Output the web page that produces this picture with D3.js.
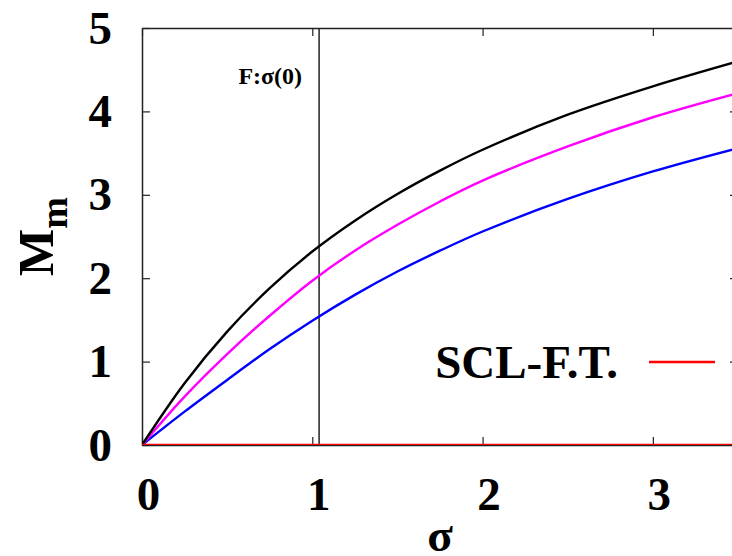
<!DOCTYPE html>
<html lang="en">
<head>
<meta charset="UTF-8"/>
<title>M_m vs sigma</title>
<script src="https://d3js.org/d3.v7.min.js"></script>
<style>
  body { margin: 0; background: #fff; }
  text { font-family: "Liberation Serif", "Times New Roman", serif; font-weight: bold; }
</style>
</head>
<body>
<script>
    // data
    var sigma   = [0, 0.25, 0.5, 0.75, 1.0, 1.25, 1.5, 1.75, 2.0, 2.5, 3.0, 3.5];
    var blackM  = [0, 0.74, 1.36, 1.88, 2.32, 2.69, 3.01, 3.29, 3.54, 3.96, 4.30, 4.60];
    var pinkM   = [0, 0.58, 1.09, 1.55, 1.97, 2.33, 2.64, 2.92, 3.17, 3.58, 3.93, 4.22];
    var blueM   = [0, 0.40, 0.78, 1.15, 1.49, 1.80, 2.08, 2.33, 2.56, 2.95, 3.28, 3.56];
    var sclFT   = [0, 0, 0, 0, 0, 0, 0, 0, 0, 0, 0, 0];
    var xTicks  = [0, 1, 2, 3];
    var yTicks  = [0, 1, 2, 3, 4, 5];
    var sigma0  = 1.04;

    var w = 732, h = 556;
    // plot frame (right edge lies just off the page)
    var padL = 142, padR = 738, padT = 28, padB = 445;

    var svg = d3.select("body").append("svg")
        .attr("width", w)
        .attr("height", h);

    var xScale = d3.scaleLinear().domain([0, 3.5]).range([padL, padR]);
    var yScale = d3.scaleLinear().domain([0, 5]).range([padB, padT]);

    svg.append("clipPath").attr("id", "clip")
        .append("rect")
        .attr("x", padL).attr("y", padT)
        .attr("width", padR - padL).attr("height", padB - padT);

    // axes, ticks pointing inward
    var xAxis = d3.axisBottom(xScale).tickValues(xTicks).tickFormat(d3.format("d"))
        .tickSizeInner(-8).tickSizeOuter(0).tickPadding(32);
    var yAxis = d3.axisLeft(yScale).tickValues(yTicks).tickFormat(d3.format("d"))
        .tickSizeInner(-8).tickSizeOuter(0).tickPadding(30);

    var gx = svg.append("g").attr("transform", "translate(0," + padB + ")").call(xAxis);
    var gy = svg.append("g").attr("transform", "translate(" + padL + ",0)").call(yAxis);
    svg.append("g").attr("transform", "translate(0," + padT + ")")
        .call(d3.axisTop(xScale).tickValues(xTicks).tickFormat("").tickSizeInner(-8).tickSizeOuter(0));
    svg.append("g").attr("transform", "translate(" + padR + ",0)")
        .call(d3.axisRight(yScale).tickValues(yTicks).tickFormat("").tickSizeInner(-8).tickSizeOuter(0));

    svg.selectAll(".domain").attr("stroke", "#222").attr("stroke-width", 1.5);
    svg.selectAll(".tick line").attr("stroke", "#222").attr("stroke-width", 1.2);
    gx.selectAll("text").attr("font-size", "47px").attr("dx", 6).attr("fill", "#000");
    gy.selectAll("text").attr("font-size", "47px").attr("fill", "#000");
    svg.selectAll("g").attr("font-family", null);

    // vertical marker at sigma(0)
    svg.append("line")
        .attr("x1", xScale(sigma0)).attr("x2", xScale(sigma0))
        .attr("y1", padT).attr("y2", padB)
        .attr("stroke", "#222").attr("stroke-width", 1.5);

    svg.append("text")
        .attr("x", xScale(sigma0) - 17)
        .attr("y", 84)
        .attr("text-anchor", "end")
        .attr("font-size", "24px")
        .text("F:σ(0)");

    // curves
    var line = d3.line()
        .x(function (d) { return xScale(d[0]); })
        .y(function (d) { return yScale(d[1]); })
        .curve(d3.curveCatmullRom.alpha(0.5));

    var series = [
        { vals: blueM,  color: "#0000ff" },
        { vals: pinkM,  color: "#ff00ff" },
        { vals: blackM, color: "#000000" },
        { vals: sclFT,  color: "#ff0000" }
    ];

    series.forEach(function (s) {
        svg.append("path")
            .datum(sigma.map(function (x, i) { return [x, s.vals[i]]; }))
            .attr("clip-path", "url(#clip)")
            .attr("fill", "none")
            .attr("stroke", s.color)
            .attr("stroke-width", 2.4)
            .attr("d", line);
    });

    // legend
    svg.append("text")
        .attr("x", 618).attr("y", 378)
        .attr("text-anchor", "end")
        .attr("font-size", "47px")
        .text("SCL-F.T.");
    svg.append("line")
        .attr("x1", 649).attr("x2", 715)
        .attr("y1", 362).attr("y2", 362)
        .attr("stroke", "#ff0000").attr("stroke-width", 2.6);

    // axis labels
    svg.append("text")
        .attr("x", (padL + padR) / 2).attr("y", 551)
        .attr("text-anchor", "middle")
        .attr("font-size", "47px")
        .text("σ");

    var yl = svg.append("text")
        .attr("transform", "translate(53," + ((padT + padB) / 2) + ") rotate(-90)")
        .attr("text-anchor", "middle")
        .attr("font-size", "50px");
    yl.append("tspan").text("M");
    yl.append("tspan").attr("font-size", "38px").attr("dy", 14).text("m");
</script>
</body>
</html>
